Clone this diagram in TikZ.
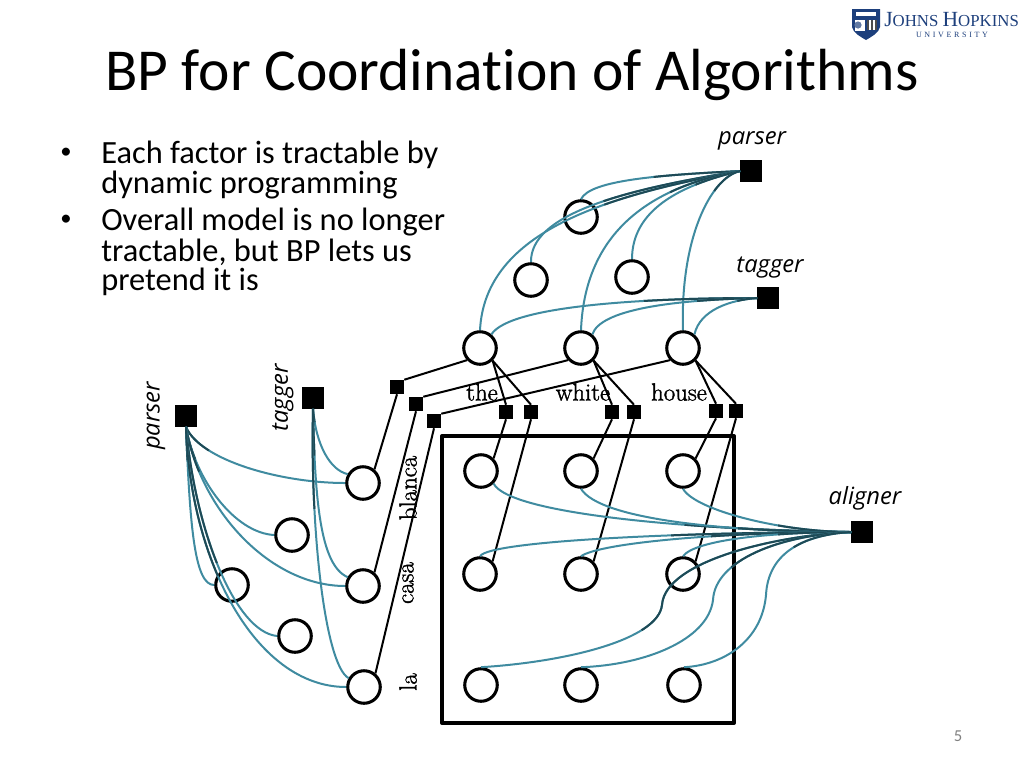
\documentclass[tikz,border=0pt]{standalone}
\usepackage{fontspec}
\newfontfamily\bodyf[Ligatures=NoCommon]{Carlito}
\newfontfamily\labf{Open Sans}
\newfontfamily\logof{Liberation Serif}
\newfontfamily\wordf[FakeBold=1.5]{Latin Modern Roman}
\definecolor{tealedge}{HTML}{3F8BA0}
\definecolor{darkedge}{HTML}{1E4A56}
\definecolor{jhublue}{HTML}{1D3F7C}
\newcommand{\fe}[4]{\draw[tealline] (#1) #2 (#3);\draw[darkline,dash pattern=on #4pt off 3000pt] (#1) #2 (#3);}
\tikzset{
  varnode/.style={circle,draw=black,fill=white,line width=2.3pt,minimum size=24.4pt,inner sep=0pt},
  bigfac/.style={rectangle,fill=black,minimum size=16pt,inner sep=0pt},
  smallfac/.style={rectangle,fill=black,minimum size=10.5pt,inner sep=0pt},
  tealline/.style={draw=tealedge,line width=1.5pt},
  darkline/.style={draw=darkedge,line width=1.5pt},
  blackline/.style={draw=black,line width=1.5pt},
  frameline/.style={draw=black,line width=3pt,line join=round},
  wordlab/.style={font=\wordf\fontsize{18.6}{20}\selectfont,inner sep=0pt},
  factlab/.style={font=\labf\itshape\fontsize{17.8}{20}\selectfont,inner sep=0pt},
  bodytext/.style={font=\bodyf\fontsize{24.3}{24.3}\selectfont,anchor=west,inner sep=0pt},
  bulletmark/.style={font=\bodyf\fontsize{17}{17}\selectfont,inner sep=0pt},
}
\begin{document}
\begin{tikzpicture}[x=0.75pt,y=-0.75pt]
\useasboundingbox (0,0) rectangle (1024,768);
\fill[white] (0,0) rectangle (1024,768);
% logo
\fill[jhublue] (852,9) -- (880,9) -- (880,27) .. controls (879,33) and (871,37) .. (866,40) .. controls (861,37) and (853,33) .. (852,27) -- cycle;
\fill[white] (856,12) rectangle (876,16);
\fill[white] (855,20) rectangle (865,31);
\fill[jhublue!70] (858,25) circle (3.6);
\fill[black!70] (867,20) rectangle (877,30);
\fill[white] (869,20) rectangle (871,30);
\fill[white] (873,20) rectangle (875,30);
\node[anchor=west,inner sep=0pt,text=jhublue] (logoname) at (884,19.5) {\logof\fontsize{16.2}{16}\selectfont J\fontsize{12.6}{16}\selectfont OHNS \fontsize{16.2}{16}\selectfont H\fontsize{12.6}{16}\selectfont OPKINS};
\node[inner sep=0pt,text=jhublue] (logouni) at (952,35) {\logof\fontsize{6}{7}\selectfont U\,\,N\,\,I\,\,V\,\,E\,\,R\,\,S\,\,I\,\,T\,\,Y};
% title
\node[inner sep=0pt,font=\bodyf\fontsize{44.6}{48}\selectfont] (title) at (512,75) {BP for Coordination of Algorithms};
% bullets
\node[bulletmark] (b1) at (66,153) {•};
\node[bodytext] (t1) at (101,155) {Each factor is tractable by};
\node[bodytext] (t2) at (101,185) {dynamic programming};
\node[bulletmark] (b2) at (66,220) {•};
\node[bodytext] (t3) at (101,222) {Overall model is no longer};
\node[bodytext] (t4) at (101,252) {tractable, but BP lets us};
\node[bodytext] (t5) at (101,282) {pretend it is};
% frame
\node[rectangle,frameline,minimum width=219pt,minimum height=215pt,inner sep=0pt] (frame) at (588,579.5) {};
% words
\node[wordlab] (w1) at (482,392) {the};
\node[wordlab] (w2) at (583,392) {white};
\node[wordlab] (w3) at (679,392) {house};
\node[wordlab,rotate=90] (s1) at (408,488) {blanca};
\node[wordlab,rotate=90] (s2) at (408,583) {casa};
\node[wordlab,rotate=90] (s3) at (408,682) {la};
% factor labels
\node[factlab] (lpa) at (752,141) {parser};
\node[factlab] (lta) at (770,268) {tagger};
\node[factlab] (lal) at (865,498) {aligner};
\node[factlab,rotate=90] (lpb) at (156,416) {parser};
\node[factlab,rotate=90] (ltb) at (283,398) {tagger};
% variables
\node[varnode] (c1) at (581,217) {};
\node[varnode] (c2) at (531,280) {};
\node[varnode] (c3) at (632,277) {};
\node[varnode] (v1) at (480,348) {};
\node[varnode] (v2) at (581,348) {};
\node[varnode] (v3) at (683,348) {};
\node[varnode] (g11) at (481,471) {};
\node[varnode] (g12) at (581,471) {};
\node[varnode] (g13) at (683,471) {};
\node[varnode] (g21) at (480,574) {};
\node[varnode] (g22) at (581,574) {};
\node[varnode] (g23) at (683,574) {};
\node[varnode] (g31) at (481,685) {};
\node[varnode] (g32) at (581,685) {};
\node[varnode] (g33) at (684,685) {};
\node[varnode] (l1) at (363,483) {};
\node[varnode] (l2) at (363,586) {};
\node[varnode] (l3) at (364,687) {};
\node[varnode] (d1) at (292,535) {};
\node[varnode] (d2) at (232,585) {};
\node[varnode] (d3) at (295,636) {};
% factors
\node[bigfac] (pf) at (751,171) {};
\node[bigfac] (tf) at (768,298) {};
\node[bigfac] (af) at (862,532) {};
\node[bigfac] (lp) at (186,416) {};
\node[bigfac] (lt) at (313,398) {};
\node[smallfac] (q1) at (397,387) {};
\node[smallfac] (q2) at (416,404) {};
\node[smallfac] (q3) at (434,421) {};
\node[smallfac] (a1) at (506,412) {};
\node[smallfac] (a2) at (531,412) {};
\node[smallfac] (a3) at (612,412) {};
\node[smallfac] (a4) at (634,412) {};
\node[smallfac] (a5) at (716,411) {};
\node[smallfac] (a6) at (736,411) {};
% black links
\draw[blackline] (v1.223) -- (q1.north east);
\draw[blackline] (v2.223) -- (q2.north east);
\draw[blackline] (v3.223) -- (q3.north east);
\draw[blackline] (q1.south) -- (l1.50);
\draw[blackline] (q2.south) -- (l2.50);
\draw[blackline] (q3.south) -- (l3.50);
\draw[blackline] (v1.-45) -- (a1.north);
\draw[blackline] (v1.-45) -- (a2.north);
\draw[blackline] (v2.-45) -- (a3.north);
\draw[blackline] (v2.-45) -- (a4.north);
\draw[blackline] (v3.-45) -- (a5.north);
\draw[blackline] (v3.-45) -- (a6.north);
\draw[blackline] (a1.south) -- (g11.45);
\draw[blackline] (a2.south) -- (g21.45);
\draw[blackline] (a3.south) -- (g12.45);
\draw[blackline] (a4.south) -- (g22.45);
\draw[blackline] (a5.south) -- (g13.45);
\draw[blackline] (a6.south) -- (g23.45);
% top parser
\fe{pf.west}{.. controls (660,175) and (590,180) ..}{c1.north}{65}
\fe{pf.west}{.. controls (620,190) and (530,215) ..}{c2.north}{105}
\fe{pf.west}{.. controls (610,195) and (485,230) ..}{v1.north}{105}
\fe{pf.west}{.. controls (660,185) and (585,225) ..}{v2.north}{55}
\fe{pf.west}{.. controls (680,185) and (632,210) ..}{c3.north}{35}
\fe{pf.west}{.. controls (710,178) and (680,240) ..}{v3.north}{25}
% top tagger
\fe{tf.west}{.. controls (650,298) and (510,305) ..}{v1.50}{85}
\fe{tf.west}{.. controls (670,300) and (600,310) ..}{v2.50}{45}
\fe{tf.west}{.. controls (730,300) and (700,310) ..}{v3.50}{15}
% left parser
\fe{lp.south}{.. controls (200,460) and (280,483) ..}{l1.west}{25}
\fe{lp.south}{.. controls (195,480) and (235,533) ..}{d1.west}{25}
\fe{lp.south}{.. controls (200,510) and (270,586) ..}{l2.west}{35}
\fe{lp.south}{.. controls (190,530) and (195,585) ..}{d2.west}{25}
\fe{lp.south}{.. controls (195,530) and (235,632) ..}{d3.west}{105}
\fe{lp.south}{.. controls (190,560) and (255,687) ..}{l3.west}{115}
% left tagger
\fe{lt.south}{.. controls (316,445) and (330,470) ..}{l1.150}{10}
\fe{lt.south}{.. controls (315,500) and (320,565) ..}{l2.150}{35}
\fe{lt.south}{.. controls (310,530) and (325,665) ..}{l3.150}{75}
% aligner
\fe{af.west}{.. controls (700,530) and (510,515) ..}{g11.-45}{125}
\fe{af.west}{.. controls (730,532) and (600,520) ..}{g12.south}{85}
\fe{af.west}{.. controls (780,532) and (695,510) ..}{g13.south}{55}
\fe{af.west}{.. controls (700,532) and (490,540) ..}{g21.north}{135}
\fe{af.west}{.. controls (720,532) and (600,543) ..}{g22.north}{105}
\fe{af.west}{.. controls (770,532) and (695,540) ..}{g23.north}{55}
\fe{af.west}{.. controls (780,535) and (665,560) .. (662,605) .. controls (658,640) and (565,662) ..}{g31.north}{185}
\fe{af.west}{.. controls (780,535) and (715,560) .. (713,600) .. controls (708,640) and (645,665) ..}{g32.north}{95}
\fe{af.west}{.. controls (800,535) and (768,555) .. (766,595) .. controls (762,640) and (725,665) ..}{g33.north}{45}
% page number
\node[inner sep=0pt,text=black!50,font=\bodyf\fontsize{12.5}{14}\selectfont] (pageno) at (958,736) {5};
\end{tikzpicture}
\end{document}
